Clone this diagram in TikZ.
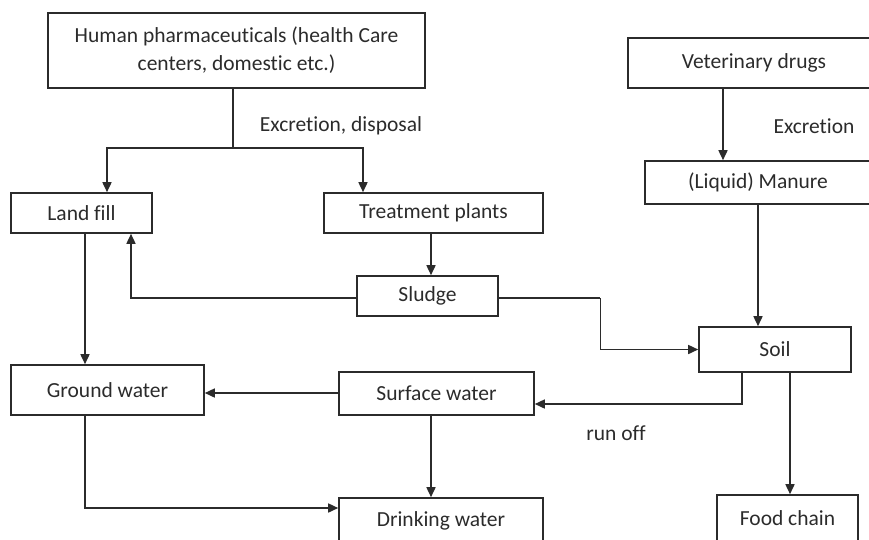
\documentclass[tikz,border=0pt]{standalone}
\usepackage{fontspec}
\setmainfont{Carlito}[Ligatures=NoCommon]
\usetikzlibrary{arrows.meta}
\definecolor{ink}{HTML}{2B2B2B}
\tikzset{
  box/.style={draw=ink, line width=1.6pt, inner sep=0pt, text=ink,
    font=\fontsize{21.5}{28}\selectfont, align=center},
  conn/.style={draw=ink, line width=1.6pt},
  arr/.style={conn, -{Triangle[length=10pt,width=9pt]}},
  lbl/.style={text=ink, font=\fontsize{21.5}{26}\selectfont, inner sep=0pt}
}
\begin{document}
\begin{tikzpicture}[x=1pt,y=-1pt]
\useasboundingbox (0,0) rectangle (869,539);

% boxes
\node[box, minimum width=377pt, minimum height=75pt] (human) at (236.5,50.5)
  {Human pharmaceuticals (health Care\\centers, domestic etc.)};
\node[box, minimum width=252pt, minimum height=50pt] (vet) at (754,63) {Veterinary drugs};
\node[box, minimum width=226pt, minimum height=43pt] (manure) at (758,182.5) {(Liquid) Manure};
\node[box, minimum width=141pt, minimum height=40pt] (landfill) at (81.5,213) {Land fill};
\node[box, minimum width=219pt, minimum height=40pt] (treatment) at (433.5,213) {Treatment plants};
\node[box, minimum width=141pt, minimum height=40pt] (sludge) at (427.5,296) {Sludge};
\node[box, minimum width=152pt, minimum height=45pt] (soil) at (775,349.5) {Soil};
\node[box, minimum width=193pt, minimum height=50pt] (ground) at (107.5,390) {Ground water};
\node[box, minimum width=195pt, minimum height=43pt] (surface) at (436.5,393.5) {Surface water};
\node[box, minimum width=204pt, minimum height=46pt] (drinking) at (441,521) {Drinking water};
\node[box, minimum width=141pt, minimum height=46pt] (food) at (787.5,518) {Food chain};

% labels
\node[lbl] (lexd) at (341,126) {Excretion, disposal};
\node[lbl] (lex) at (814,126) {Excretion};
\node[lbl] (lrun) at (616,433) {run off};

% bend points
\coordinate (split) at ([xshift=-3.5pt]human.south |- 0,148);
\coordinate (sbend) at ([xshift=101.5pt,yshift=-2pt]sludge.east);

% human pharmaceuticals split to land fill and treatment plants
\draw[conn] ([xshift=-3.5pt]human.south) -- (split);
\draw[arr] (split) -| ([xshift=25.5pt]landfill.north);
\draw[arr] (split) -| ([xshift=-70.5pt]treatment.north);

% veterinary branch
\draw[arr] ([xshift=-31pt]vet.south) -- ([xshift=-31pt]vet.south |- manure.north);
\draw[arr] (manure.south) -- (manure.south |- soil.north);

% treatment and sludge
\draw[arr] ([xshift=-2.5pt]treatment.south) -- ([xshift=-2.5pt]treatment.south |- sludge.north);
\draw[arr] ([yshift=-2pt]sludge.west) -| ([xshift=49.5pt]landfill.south);
\draw[conn] ([yshift=-2pt]sludge.east) -- (sbend);
\draw[arr] (sbend) |- (soil.west);

% waters
\draw[arr] ([xshift=3.5pt]landfill.south) -- ([xshift=3.5pt]landfill.south |- ground.north);
\draw[arr] ([yshift=0.5pt]surface.west) -- ([yshift=0.5pt]surface.west -| ground.east);
\draw[arr] ([xshift=-5.5pt]surface.south) -- ([xshift=-5.5pt]surface.south |- drinking.north);
\draw[arr] ([xshift=-22.5pt]ground.south) |- ([yshift=13pt]drinking.west);

% soil outflows
\draw[arr] ([xshift=-33pt]soil.south) |- ([yshift=-10.5pt]surface.east);
\draw[arr] ([xshift=15pt]soil.south) -- ([xshift=15pt]soil.south |- food.north);
\end{tikzpicture}
\end{document}
